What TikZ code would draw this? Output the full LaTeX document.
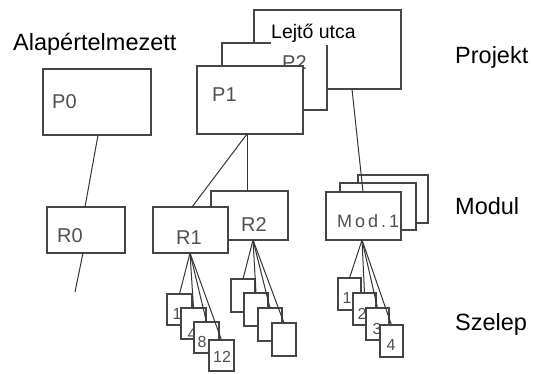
\documentclass[tikz,border=0pt]{standalone}
\usepackage{fontspec}
\setmainfont{Liberation Sans}
\usetikzlibrary{calc}
\definecolor{linec}{HTML}{454545}
\definecolor{connc}{HTML}{353535}
\definecolor{labc}{HTML}{505050}
\begin{document}
\begin{tikzpicture}[x=1pt,y=-1pt,
  bx/.style={draw=linec, line width=1.4pt, fill=white, anchor=north west, inner sep=0pt, outer sep=0pt},
  boxlabel/.style={font=\fontsize{20}{20}\selectfont, text=labc, inner sep=0pt, anchor=base west},
  vlabel/.style={font=\fontsize{16}{16}\selectfont, text=labc, inner sep=0pt, anchor=center},
  biglabel/.style={font=\fontsize{23.5}{24}\selectfont, text=black, inner sep=0pt, anchor=base west},
  conn/.style={draw=connc, line width=1pt},
  valveA/.style={bx, minimum width=25pt, minimum height=31pt},
  valveB/.style={bx, minimum width=24pt, minimum height=33pt},
  valveC/.style={bx, minimum width=23pt, minimum height=32pt}]
\fill[white] (0,0) rectangle (534,373);
\useasboundingbox (0,0) rectangle (534,373);

% side labels
\node[biglabel] (lalap) at (13,50) {Alapértelmezett};
\node[biglabel] (lproj) at (455,63.5) {Projekt};
\node[biglabel] (lmod) at (455,214) {Modul};
\node[biglabel] (lsz) at (455,330) {Szelep};

% project stack
\node[bx, minimum width=147pt, minimum height=79pt] (lejto) at (254,10) {};
\node[bx, minimum width=105pt, minimum height=67pt] (P2) at (222,43) {};
\node[boxlabel] (tP2) at (282,69) {P2};
\node[bx, minimum width=106pt, minimum height=68pt] (P1) at (197,66) {};
\node[boxlabel] (tP1) at (212,101) {P1};
\node[font=\fontsize{19.5}{20}\selectfont, fill=white, inner xsep=0pt, inner ysep=2.5pt, anchor=base west] (tlejto) at (271,38) {Lejtő utca};

% default
\node[bx, minimum width=108pt, minimum height=66pt] (P0) at (43,69) {};
\node[boxlabel] (tP0) at (52,108) {P0};
\node[bx, minimum width=78pt, minimum height=46pt] (R0) at (47,207) {};
\node[boxlabel] (tR0) at (57,242) {R0};
\coordinate (R0end) at (75,292);

% R boxes
\node[bx, minimum width=77pt, minimum height=49pt] (R2) at (211,191) {};
\node[boxlabel] (tR2) at (241,231) {R2};
\node[bx, minimum width=75pt, minimum height=46pt] (R1) at (153,207) {};
\node[boxlabel] (tR1) at (176,244) {R1};

% modules
\node[bx, minimum width=70pt, minimum height=48pt] (M3) at (358,175) {};
\node[bx, minimum width=76pt, minimum height=47pt] (M2) at (340,183) {};
\node[bx, minimum width=75pt, minimum height=48pt] (M1) at (326,192) {};
\node[boxlabel, font=\fontsize{18}{18}\selectfont] (tM1) at (337,227) {M\,o\,d\,.\,1};

% valves under R1
\node[valveA] (a1) at (167,294) {};
\node[vlabel] (ta1) at (177,314) {1};
\node[valveA] (a2) at (181,308) {};
\node[vlabel] (ta2) at (192,334) {4};
\node[valveA] (a3) at (194,322) {};
\node[vlabel] (ta3) at (202,342) {8};
\node[valveA] (a4) at (209,340) {};
\node[vlabel] (ta4) at (222,357) {12};

% valves under R2
\node[valveB] (b1) at (231,279) {};
\node[valveB] (b2) at (244,293) {};
\node[valveB] (b3) at (258,308) {};
\node[valveB] (b4) at (272,323) {};

% valves under Mod.1
\node[valveC] (c1) at (338,278) {};
\node[vlabel] (tc1) at (347,298) {1};
\node[valveC] (c2) at (353,293) {};
\node[vlabel] (tc2) at (362,314) {2};
\node[valveC] (c3) at (366,308) {};
\node[vlabel] (tc3) at (377,329) {3};
\node[valveC] (c4) at (380,325) {};
\node[vlabel] (tc4) at (391,345) {4};

% connectors
\draw[conn] ([xshift=55pt]P0.south west) -- ([xshift=38pt]R0.north west);
\draw[conn] ([xshift=36pt]R0.south west) -- (R0end);
\draw[conn] ([xshift=50pt]P1.south west) -- ([xshift=39pt]R1.north west);
\draw[conn] ([xshift=50pt]P1.south west) -- ([xshift=36pt]R2.north west);
\draw[conn] ([xshift=98pt]lejto.south west) -- ([xshift=37pt]M1.north west);

\foreach \v in {a1,a2,a3,a4}
  \draw[conn] ([xshift=37pt]R1.south west) -- (\v.north);
\foreach \v in {b1,b2,b3,b4}
  \draw[conn] ([xshift=42pt]R2.south west) -- (\v.north);
\foreach \v in {c1,c2,c3,c4}
  \draw[conn] ([xshift=36pt]M1.south west) -- (\v.north);
\end{tikzpicture}
\end{document}
